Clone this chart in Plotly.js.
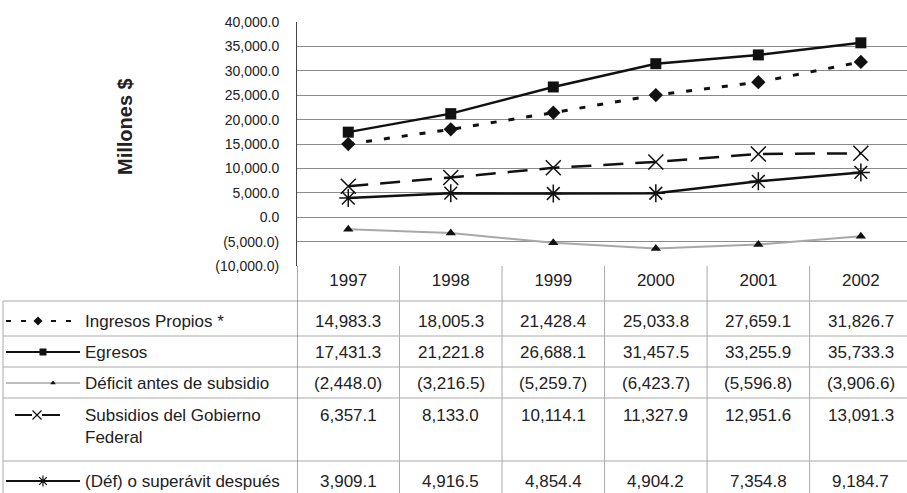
<!DOCTYPE html>
<html>
<head>
<meta charset="utf-8">
<script src="https://cdn.plot.ly/plotly-3.0.1.min.js"></script>
<style>html,body{margin:0;padding:0;background:#fff;overflow:hidden;}</style>
</head>
<body>
<div id="chart" style="width:907px;height:493px;"></div>
<script>
const years = ['1997', '1998', '1999', '2000', '2001', '2002'];
const ingresos = [14983.3, 18005.3, 21428.4, 25033.8, 27659.1, 31826.7];
const egresos = [17431.3, 21221.8, 26688.1, 31457.5, 33255.9, 35733.3];
const deficit = [-2448.0, -3216.5, -5259.7, -6423.7, -5596.8, -3906.6];
const subsidios = [6357.1, 8133.0, 10114.1, 11327.9, 12951.6, 13091.3];
const despues = [3909.1, 4916.5, 4854.4, 4904.2, 7354.8, 9184.7];
const seriesNames = ['Ingresos Propios *', 'Egresos', 'Déficit antes de subsidio', 'Subsidios del Gobierno<br>Federal', '(Déf) o superávit después'];
const yTickVals = [-10000, -5000, 0, 5000, 10000, 15000, 20000, 25000, 30000, 35000, 40000];
const yTickText = ['(10,000.0)', '(5,000.0)', '0.0', '5,000.0', '10,000.0', '15,000.0', '20,000.0', '25,000.0', '30,000.0', '35,000.0', '40,000.0'];
const yTitle = 'Millones $';

const FONT = 'Liberation Sans, Arial, sans-serif';
const W = 907, H = 493, TOP = 22, PLOT_BOTTOM = 266, PLOT_LEFT = 297;
const splitFrac = (H - PLOT_BOTTOM) / (H - TOP);

const allSeries = [ingresos, egresos, deficit, subsidios, despues];
const styles = [
  {line: {color: '#111', width: 3, dash: '6px,12px'}, marker: {symbol: 'diamond', size: 11, color: '#111'},
   key: {color: '#111', width: 2, dash: '5px,10px'}, keyMarker: {symbol: 'diamond', size: 7, color: '#111'}},
  {line: {color: '#111', width: 2.5}, marker: {symbol: 'square', size: 11, color: '#111'},
   key: {color: '#111', width: 2}, keyMarker: {symbol: 'square', size: 7, color: '#111'}},
  {line: {color: '#a8a8a8', width: 2}, marker: {symbol: 'triangle-up', size: 9, color: '#111'},
   key: {color: '#a8a8a8', width: 1.5}, keyMarker: {symbol: 'triangle-up', size: 5, color: '#111'}},
  {line: {color: '#111', width: 2.5, dash: '20px,12px'}, marker: {symbol: 'x-thin-open', size: 15, color: '#111', line: {width: 1.5, color: '#111'}},
   key: {color: '#111', width: 2}, keyMarker: {symbol: 'x-thin-open', size: 9, color: '#111', line: {width: 1.2, color: '#111'}}},
  {line: {color: '#111', width: 2.5}, marker: {symbol: 'asterisk-open', size: 15, color: '#111', line: {width: 1.5, color: '#111'}},
   key: {color: '#111', width: 2}, keyMarker: {symbol: 'asterisk-open', size: 9, color: '#111', line: {width: 1.2, color: '#111'}}}
];
// row text centres (pixel y) in the data table
const rowY = [321, 352, 383, 426, 481];
const valueY = [321, 352, 383, 415, 481];
const rowLines = [301, 336, 367, 398, 461];
const keyMarkerX = [38, 43, 53, 37, 43];
const keySegments = [[[6, 80]], [[6, 80]], [[6, 80]], [[15, 32], [42, 60]], [[6, 80]]];

function fmt(v) {
  const s = Math.abs(v).toLocaleString('en-US', {minimumFractionDigits: 1, maximumFractionDigits: 1});
  return v < 0 ? '(' + s + ')' : s;
}

const traces = [];
allSeries.forEach((vals, i) => {
  traces.push({
    type: 'scatter', mode: 'lines+markers', x: years, y: vals, name: seriesNames[i].replace('<br>', ' '),
    xaxis: 'x', yaxis: 'y', line: styles[i].line, marker: styles[i].marker, showlegend: false, hoverinfo: 'skip'
  });
});
// legend key markers in the table
allSeries.forEach((vals, i) => {
  traces.push({
    type: 'scatter', mode: 'markers', x: [keyMarkerX[i]], y: [valueY[i]], xaxis: 'x2', yaxis: 'y2',
    marker: styles[i].keyMarker, showlegend: false, hoverinfo: 'skip'
  });
});

const shapes = [];
const annotations = [];
const gridCol = '#aaaaaa';
// horizontal table lines
rowLines.forEach(y => shapes.push({type: 'line', xref: 'x2', yref: 'y2', x0: 3, x1: W, y0: y, y1: y, line: {color: gridCol, width: 1}}));
// left border of the table
shapes.push({type: 'line', xref: 'x2', yref: 'y2', x0: 3, x1: 3, y0: rowLines[0], y1: H, line: {color: gridCol, width: 1}});
// column lines
for (let j = 0; j <= years.length; j++) {
  shapes.push({type: 'line', xref: 'x', yref: 'y2', x0: j - 0.5, x1: j - 0.5, y0: PLOT_BOTTOM, y1: H,
    line: {color: j === 0 ? '#555' : gridCol, width: 1}});
}
// legend key lines
allSeries.forEach((vals, i) => {
  keySegments[i].forEach(seg => {
    shapes.push({type: 'line', xref: 'x2', yref: 'y2', x0: seg[0], x1: seg[1], y0: valueY[i], y1: valueY[i], line: styles[i].key, layer: 'below'});
  });
});
// row labels
seriesNames.forEach((name, i) => {
  annotations.push({xref: 'x2', yref: 'y2', x: 83, y: rowY[i], text: name, showarrow: false, xanchor: 'left', yanchor: 'middle', align: 'left',
    font: {family: FONT, size: 17, color: '#222'}});
});
// values
allSeries.forEach((vals, i) => {
  vals.forEach((v, j) => {
    annotations.push({xref: 'x', yref: 'y2', x: j, y: valueY[i], text: fmt(v), showarrow: false, xanchor: 'center', yanchor: 'middle',
      font: {family: FONT, size: 17, color: '#222'}});
  });
});
// y axis title
annotations.push({xref: 'paper', yref: 'paper', x: 125 / W, y: (H - 127) / (H - TOP), text: '<b>' + yTitle + '</b>', textangle: -90,
  showarrow: false, xanchor: 'center', yanchor: 'middle', font: {family: FONT, size: 20, color: '#222'}});

const layout = {
  width: W, height: H, margin: {l: 0, r: 0, t: TOP, b: 0},
  paper_bgcolor: '#fff', plot_bgcolor: '#fff',
  font: {family: FONT, color: '#222'},
  showlegend: false,
  xaxis: {type: 'category', domain: [PLOT_LEFT / W, 1], range: [-0.5, 5.45], anchor: 'y',
    showgrid: false, zeroline: false, showline: false, ticks: '', tickfont: {family: FONT, size: 17, color: '#222'},
    ticklabelstandoff: 2, fixedrange: true},
  yaxis: {domain: [splitFrac, 1], range: [-10000, 40000], anchor: 'x', tickvals: yTickVals, ticktext: yTickText,
    showgrid: true, gridcolor: '#8a8a8a', gridwidth: 1, zeroline: false, showline: true, linecolor: '#444', linewidth: 1,
    ticks: '', ticklabelstandoff: 14, tickfont: {family: FONT, size: 14, color: '#222'}, fixedrange: true},
  xaxis2: {domain: [0, 1], range: [0, W], anchor: 'y2', visible: false, fixedrange: true},
  yaxis2: {domain: [0, splitFrac], range: [H, PLOT_BOTTOM], anchor: 'x2', visible: false, fixedrange: true},
  shapes: shapes,
  annotations: annotations
};

Plotly.newPlot('chart', traces, layout, {displayModeBar: false, staticPlot: true});
</script>
</body>
</html>
